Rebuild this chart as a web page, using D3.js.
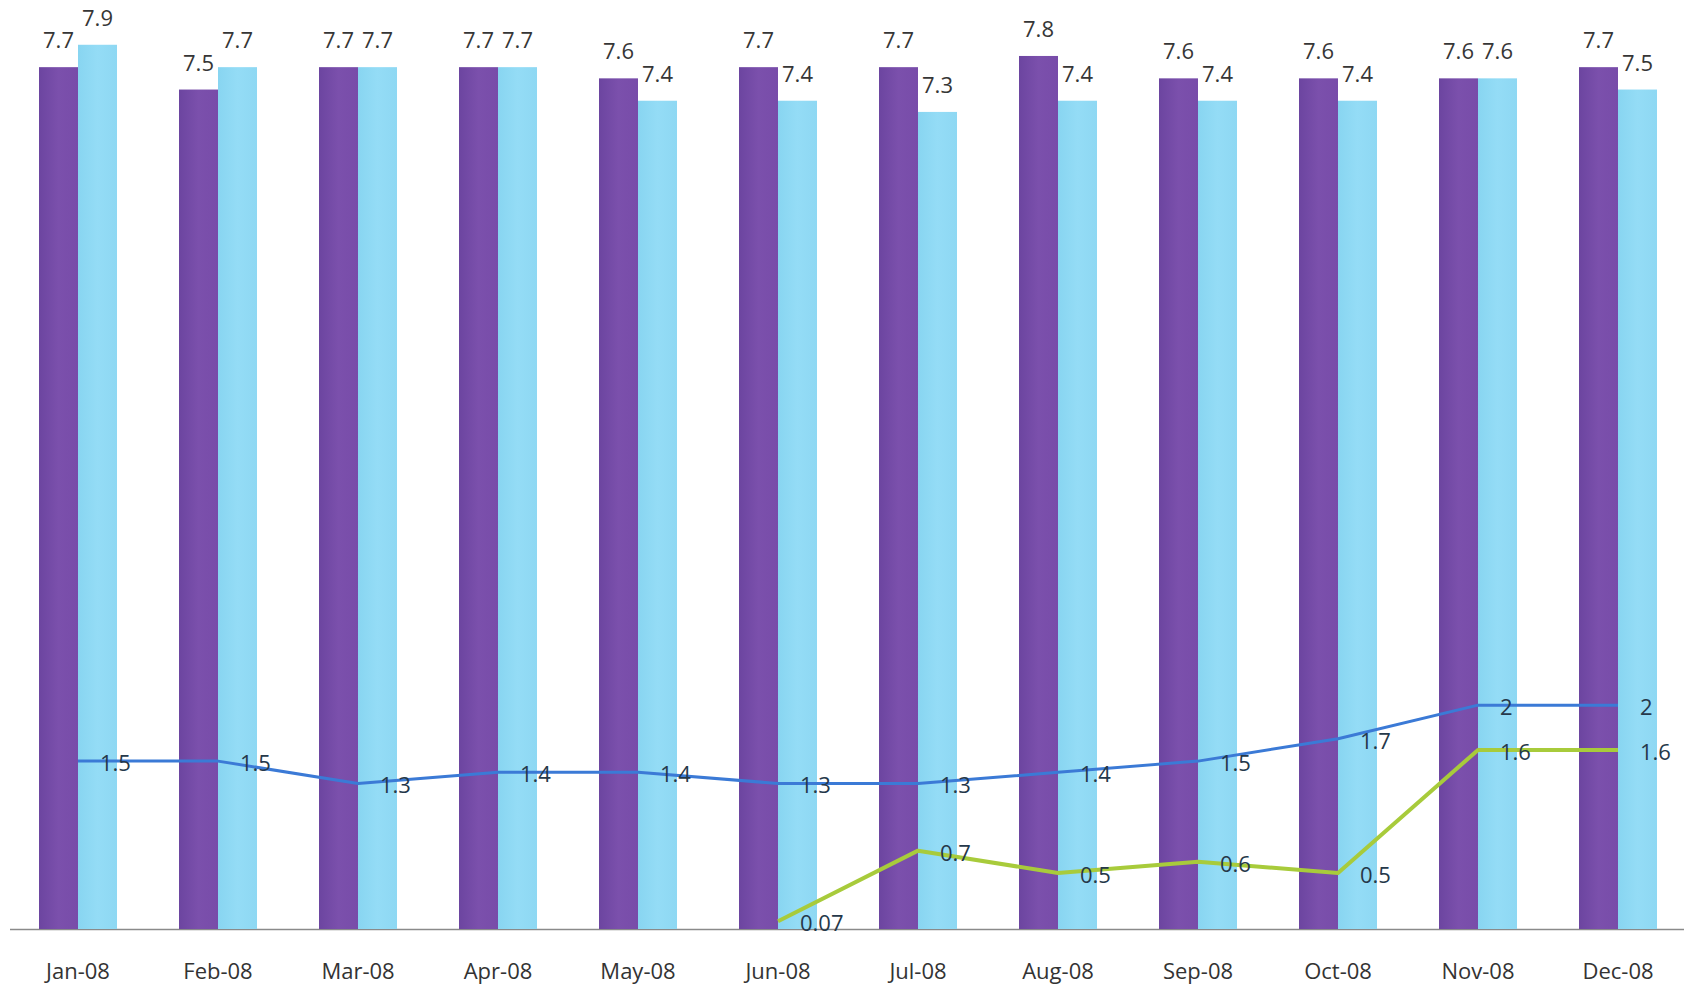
<!DOCTYPE html>
<html>
<head>
<meta charset="utf-8">
<script src="https://cdn.jsdelivr.net/npm/d3@7"></script>
<style>
  html, body { margin: 0; padding: 0; background: #ffffff; }
  svg { display: block; }
  text { font-family: "Open Sans", "Liberation Sans", sans-serif; }
</style>
</head>
<body>
<svg id="chart" width="1684" height="989"></svg>
<script>
// Monthly values, 2008
const months = ["Jan-08", "Feb-08", "Mar-08", "Apr-08", "May-08", "Jun-08",
                "Jul-08", "Aug-08", "Sep-08", "Oct-08", "Nov-08", "Dec-08"];
const seriesA = [7.7, 7.5, 7.7, 7.7, 7.6, 7.7, 7.7, 7.8, 7.6, 7.6, 7.6, 7.7];
const seriesB = [7.9, 7.7, 7.7, 7.7, 7.4, 7.4, 7.3, 7.4, 7.4, 7.4, 7.6, 7.5];
const lineBlue = [1.5, 1.5, 1.3, 1.4, 1.4, 1.3, 1.3, 1.4, 1.5, 1.7, 2, 2];
const lineGreen = [null, null, null, null, null, 0.07, 0.7, 0.5, 0.6, 0.5, 1.6, 1.6];

const svg = d3.select("#chart");
const baseY = 929;

const x = d3.scaleBand().domain(months).range([8, 1688]).paddingInner(0).paddingOuter(0);
const y = d3.scaleLinear().domain([0, 8.3]).range([baseY, 0]);
const barW = 39;

// gentle shading across each bar
const defs = svg.append("defs");
const gp = defs.append("linearGradient").attr("id", "gPurple");
gp.append("stop").attr("offset", "0%").attr("stop-color", "#6c45a0");
gp.append("stop").attr("offset", "50%").attr("stop-color", "#7b50ac");
gp.append("stop").attr("offset", "100%").attr("stop-color", "#784ca9");
const gc = defs.append("linearGradient").attr("id", "gCyan");
gc.append("stop").attr("offset", "0%").attr("stop-color", "#88d5f1");
gc.append("stop").attr("offset", "50%").attr("stop-color", "#94dcf6");
gc.append("stop").attr("offset", "100%").attr("stop-color", "#8ed8f3");

const center = m => x(m) + x.bandwidth() / 2;

// baseline
svg.append("line")
  .attr("x1", 10).attr("x2", 1684)
  .attr("y1", baseY + 0.5).attr("y2", baseY + 0.5)
  .attr("stroke", "#8a8a8a").attr("stroke-width", 1.5);

// bars
svg.append("g").selectAll("rect").data(months).join("rect")
  .attr("x", m => center(m) - barW)
  .attr("y", (m, i) => y(seriesA[i]))
  .attr("width", barW)
  .attr("height", (m, i) => baseY - y(seriesA[i]))
  .attr("fill", "url(#gPurple)");

svg.append("g").selectAll("rect").data(months).join("rect")
  .attr("x", m => center(m))
  .attr("y", (m, i) => y(seriesB[i]))
  .attr("width", barW)
  .attr("height", (m, i) => baseY - y(seriesB[i]))
  .attr("fill", "url(#gCyan)");

// bar value labels
function barLabels(values, dx) {
  svg.append("g").selectAll("text").data(months).join("text")
    .attr("x", m => center(m) + dx)
    .attr("y", (m, i) => y(values[i]) - 19)
    .attr("font-size", "22px")
    .attr("fill", "#363636")
    .attr("text-anchor", "middle")
    .text((m, i) => values[i]);
}
barLabels(seriesA, -barW / 2);
barLabels(seriesB, barW / 2);

// lines with labels to the right of each point
function drawLine(values, color, width) {
  const pts = months.map((m, i) => ({ m, v: values[i] })).filter(d => d.v !== null);
  const gen = d3.line().x(d => center(d.m)).y(d => y(d.v));
  svg.append("path").datum(pts)
    .attr("d", gen)
    .attr("fill", "none")
    .attr("stroke", color)
    .attr("stroke-width", width)
    .attr("stroke-linejoin", "round");
  svg.append("g").selectAll("text").data(pts).join("text")
    .attr("x", d => center(d.m) + 22)
    .attr("y", d => y(d.v) + 10)
    .attr("font-size", "22px")
    .attr("fill", "#25384a")
    .text(d => d.v);
}
drawLine(lineBlue, "#3b7ad6", 3);
drawLine(lineGreen, "#a8cb3b", 4);

// category axis
const xAxis = d3.axisBottom(x).tickSize(0).tickPadding(0);
const ax = svg.append("g").attr("transform", `translate(0, ${baseY + 34})`).call(xAxis);
ax.select(".domain").remove();
ax.selectAll("text")
  .attr("font-size", "22px")
  .attr("fill", "#333333")
  .attr("font-family", "\"Open Sans\", \"Liberation Sans\", sans-serif");
</script>
</body>
</html>
